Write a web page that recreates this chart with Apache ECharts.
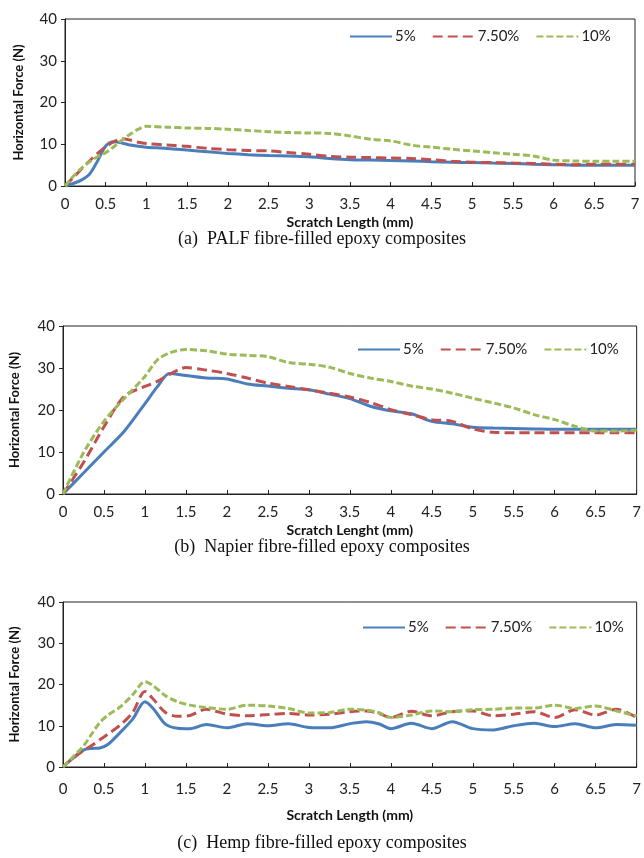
<!DOCTYPE html>
<html>
<head>
<meta charset="utf-8">
<script src="https://cdn.jsdelivr.net/npm/echarts@6/dist/echarts.min.js"></script>
<style>
  html, body { margin: 0; padding: 0; background: #fff; }
  #chart { width: 644px; height: 858px; }
</style>
</head>
<body>
<div id="chart"></div>
<script>
// series names
const names = ["5%", "7.50%", "10%"];
const xTicks = [0, 0.5, 1, 1.5, 2, 2.5, 3, 3.5, 4, 4.5, 5, 5.5, 6, 6.5, 7];

// (a) PALF
const palfX = [0, 0.1, 0.2, 0.3, 0.4, 0.5, 0.6, 0.7, 0.8, 0.9, 1, 1.25, 1.5, 1.75, 2, 2.25, 2.5, 2.75, 3, 3.25, 3.5, 3.75, 4, 4.25, 4.5, 4.75, 5, 5.25, 5.5, 5.75, 6, 6.25, 6.5, 6.75, 7];
const palf5 = [0, 0.6, 1.4, 2.8, 6, 9.6, 10.6, 10.3, 9.8, 9.5, 9.3, 9.0, 8.6, 8.2, 7.8, 7.5, 7.3, 7.2, 7.0, 6.6, 6.3, 6.2, 6.1, 6.0, 5.8, 5.7, 5.6, 5.5, 5.4, 5.2, 5.1, 5.0, 5.0, 5.0, 5.0];
const palf75 = [0, 2, 4, 6, 7.8, 9.4, 10.6, 11.3, 11.0, 10.5, 10.2, 9.8, 9.5, 9.0, 8.7, 8.5, 8.4, 8.0, 7.6, 7.1, 6.9, 6.8, 6.7, 6.6, 6.3, 5.9, 5.7, 5.6, 5.5, 5.4, 5.2, 5.1, 5.2, 5.2, 5.2];
const palf10 = [0, 2.3, 4.2, 5.8, 7.0, 8.0, 9.4, 11.0, 12.4, 13.6, 14.3, 14.1, 13.9, 13.8, 13.6, 13.3, 13.0, 12.8, 12.7, 12.6, 12.0, 11.2, 10.8, 9.8, 9.3, 8.8, 8.4, 8.0, 7.6, 7.2, 6.2, 6.0, 5.9, 5.9, 5.9];

// (b) Napier
const napX = [0, 0.25, 0.5, 0.75, 1, 1.15, 1.3, 1.5, 1.75, 2, 2.25, 2.5, 2.75, 3, 3.25, 3.5, 3.75, 4, 4.25, 4.5, 4.75, 5, 5.25, 5.5, 5.75, 6, 6.25, 6.5, 6.75, 7];
const nap5 = [0, 5, 10, 15, 21.5, 25.5, 28.7, 28.2, 27.6, 27.4, 26.2, 25.7, 25.2, 24.8, 23.8, 22.7, 20.9, 19.8, 19.1, 17.3, 16.7, 15.9, 15.7, 15.6, 15.5, 15.4, 15.4, 15.4, 15.4, 15.4];
const nap75 = [0, 7.5, 16, 23.3, 25.6, 26.8, 28.5, 30.1, 29.5, 28.7, 27.6, 26.4, 25.6, 24.8, 24.0, 23.1, 21.8, 20.1, 18.9, 17.7, 17.3, 15.5, 14.7, 14.6, 14.6, 14.6, 14.6, 14.6, 14.6, 14.6];
const nap10 = [0, 9.8, 17.3, 22.8, 28, 31.9, 33.6, 34.4, 34.1, 33.3, 33.0, 32.7, 31.3, 30.9, 30.2, 28.7, 27.6, 26.8, 25.7, 25.0, 24.0, 22.8, 21.7, 20.5, 18.9, 17.7, 16.1, 15.0, 15.0, 15.2];

// (c) Hemp
const hempX = [0, 0.1, 0.25, 0.35, 0.45, 0.55, 0.7, 0.85, 1, 1.1, 1.25, 1.4, 1.55, 1.75, 2, 2.25, 2.5, 2.75, 3, 3.25, 3.5, 3.7, 3.85, 4, 4.25, 4.5, 4.75, 5, 5.25, 5.5, 5.75, 6, 6.25, 6.5, 6.75, 7];
const hemp5 = [0, 1.8, 4.1, 4.5, 4.6, 5.5, 8.4, 11.6, 15.8, 14.2, 10.4, 9.4, 9.3, 10.3, 9.5, 10.5, 10.0, 10.5, 9.6, 9.5, 10.5, 11.0, 10.5, 9.3, 10.6, 9.3, 11.0, 9.3, 9.0, 10.0, 10.6, 9.8, 10.5, 9.5, 10.3, 10.1];
const hemp75 = [0, 1.8, 4.0, 5.2, 6.6, 8.0, 10.2, 13.2, 18.3, 16.5, 13.2, 12.3, 12.5, 14.0, 12.8, 12.4, 12.7, 13.0, 12.6, 12.8, 13.4, 13.6, 13.0, 12.0, 13.5, 12.4, 13.4, 13.6, 12.4, 12.8, 13.4, 12.0, 13.9, 12.6, 14.0, 12.0];
const hemp10 = [0, 2.0, 5.1, 8.0, 10.8, 12.6, 14.6, 17.5, 20.7, 19.7, 17.3, 15.8, 15.0, 14.4, 14.0, 15.0, 14.8, 14.2, 13.1, 13.2, 14.0, 13.8, 13.2, 12.0, 12.6, 13.6, 13.4, 13.9, 14.0, 14.3, 14.3, 15.0, 14.2, 14.8, 13.6, 12.4];

const colors = ["#4a7ebb", "#c0504d", "#9bbb59"];
const dashes = ["solid", [10, 5], [7, 3]];

const panels = [
  { x: palfX, ys: [palf5, palf75, palf10], xName: "Scratch Length (mm)",
    caption: "(a)  PALF fibre-filled epoxy composites",
    left: 65, right: 9, top: 19, height: 167, yGap: 40, labelMargin: 11, xGap: 29,
    legendLeft: 349, legendTop: 29, captionY: 230 },
  { x: napX, ys: [nap5, nap75, nap10], xName: "Scratch Lenght (mm)",
    caption: "(b)  Napier fibre-filled epoxy composites",
    left: 61, right: 1, top: 326, height: 168, yGap: 42, labelMargin: 11, xGap: 29,
    legendLeft: 357, legendTop: 342, captionY: 538 },
  { x: hempX, ys: [hemp5, hemp75, hemp10], xName: "Scratch Length (mm)",
    caption: "(c)  Hemp fibre-filled epoxy composites",
    left: 60, right: 1, top: 602, height: 165, yGap: 42, labelMargin: 15, xGap: 41,
    legendLeft: 362, legendTop: 620, captionY: 834 }
];

const chart = echarts.init(document.getElementById("chart"));

let grid = [], xAxis = [], yAxis = [], series = [], legend = [], graphic = [];
panels.forEach((p, i) => {
  grid.push({
    left: p.left, right: p.right, top: p.top, height: p.height,
    show: true, borderColor: "#222", borderWidth: 1, backgroundColor: "transparent"
  });
  xAxis.push({
    type: "value", gridIndex: i, min: 0, max: 7, interval: 0.5,
    name: p.xName, nameLocation: "middle", nameGap: p.xGap,
    nameTextStyle: { fontFamily: "Lato", fontWeight: "bold", fontSize: 14, color: "#111" },
    axisLine: { lineStyle: { color: "#222" } },
    axisTick: { inside: true, length: 4, lineStyle: { color: "#222" } },
    axisLabel: { fontFamily: "Lato", fontSize: 15, color: "#222", margin: p.labelMargin },
    splitLine: { show: false }
  });
  yAxis.push({
    type: "value", gridIndex: i, min: 0, max: 40, interval: 10,
    name: "Horizontal Force (N)", nameLocation: "middle", nameGap: p.yGap,
    nameTextStyle: { fontFamily: "Lato", fontWeight: "bold", fontSize: 13, color: "#111" },
    axisLine: { show: true, lineStyle: { color: "#222" } },
    axisTick: { show: true, length: 4, lineStyle: { color: "#222" } },
    axisLabel: { fontFamily: "Lato", fontSize: 15, color: "#222", margin: 8 },
    splitLine: { show: false }
  });
  names.forEach((n, k) => {
    series.push({
      name: n, type: "line", xAxisIndex: i, yAxisIndex: i,
      smooth: 0.3, symbol: "none",
      lineStyle: { color: colors[k], width: 3, type: dashes[k], cap: "butt" },
      itemStyle: { color: colors[k] },
      data: p.x.map((x, j) => [x, p.ys[k][j]])
    });
  });
  legend.push({
    data: names, left: p.legendLeft, top: p.legendTop, padding: 0,
    itemWidth: 42, itemHeight: 12, itemGap: 16,
    itemStyle: { opacity: 0 },
    textStyle: { fontFamily: "Lato", fontSize: 15, color: "#222", padding: [0, 0, 0, -2] }
  });
  graphic.push({
    type: "text", left: "center", top: p.captionY,
    style: { text: p.caption, font: "18px 'Liberation Serif'", fill: "#111" }
  });
});

chart.setOption({
  animation: false,
  grid: grid,
  xAxis: xAxis,
  yAxis: yAxis,
  legend: legend,
  graphic: graphic,
  series: series
});
</script>
</body>
</html>
